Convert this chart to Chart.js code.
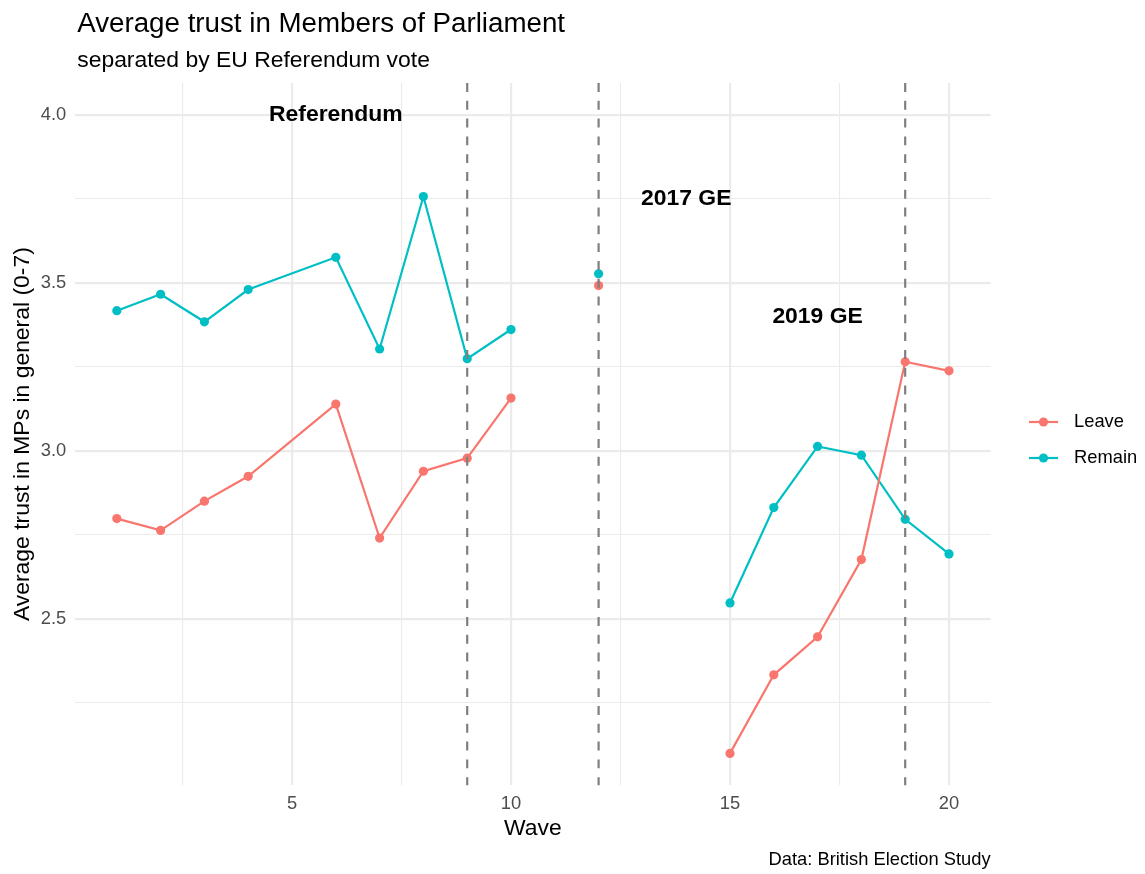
<!DOCTYPE html>
<html lang="en">
<head>
    <meta charset="UTF-8">
    <title>Average trust in Members of Parliament</title>
    <script src="https://cdn.jsdelivr.net/npm/chart.js"></script>
    <style>
        body {
            margin: 0;
            background: #ffffff;
        }
        canvas {
            display: block;
        }
    </style>
</head>
<body>
    <canvas id="trustChart" width="1145" height="874"></canvas>

    <script>
        // waves 11, 13 and 14 have no data -> null breaks the line
        const waves = [1, 2, 3, 4, 6, 7, 8, 9, 10, 11, 12, 13, 14, 15, 16, 17, 18, 19, 20];
        const leave = [2.798, 2.763, 2.850, 2.924, 3.139, 2.740, 2.939, 2.978, 3.157, null, 3.492, null, null, 2.099, 2.333, 2.446, 2.676, 3.265, 3.238];
        const remain = [3.417, 3.466, 3.384, 3.480, 3.576, 3.303, 3.757, 3.274, 3.361, null, 3.527, null, null, 2.547, 2.831, 3.013, 2.987, 2.796, 2.693];

        const eventWaves = [9, 12, 19];
        const eventLabels = ['Referendum', '2017 GE', '2019 GE'];
        const labelWaves = [6, 14, 17];
        const labelTrust = [4.0, 3.75, 3.4];

        const xTicks = [2.5, 5, 7.5, 10, 12.5, 15, 17.5, 20];
        const yTicks = [2.25, 2.5, 2.75, 3.0, 3.25, 3.5, 3.75, 4.0];

        const FONT = '"Liberation Sans", Arial, Helvetica, sans-serif';
        const BASE = 22.92;
        const SMALL = 18.33;
        Chart.defaults.font.family = FONT;

        const toPoints = vals => waves.map((w, i) => ({ x: w, y: vals[i] }));

        const isMajorX = v => Math.abs(v / 5 - Math.round(v / 5)) < 1e-9;
        const isMajorY = v => Math.abs(v * 2 - Math.round(v * 2)) < 1e-9;

        // vertical dashed lines + bold labels, drawn above the series
        const eventsPlugin = {
            id: 'events',
            afterDatasetsDraw(chart) {
                const { ctx, chartArea, scales } = chart;
                ctx.save();
                ctx.strokeStyle = '#7F7F7F';
                ctx.lineWidth = 2.2;
                ctx.setLineDash([8.9, 8.9]);
                eventWaves.forEach(w => {
                    const px = scales.x.getPixelForValue(w);
                    ctx.beginPath();
                    ctx.moveTo(px, chartArea.top);
                    ctx.lineTo(px, chartArea.bottom);
                    ctx.stroke();
                });
                ctx.setLineDash([]);
                ctx.fillStyle = '#000000';
                ctx.font = 'bold ' + BASE + 'px ' + FONT;
                ctx.textAlign = 'center';
                ctx.textBaseline = 'middle';
                eventLabels.forEach((txt, i) => {
                    ctx.fillText(txt, scales.x.getPixelForValue(labelWaves[i]), scales.y.getPixelForValue(labelTrust[i]));
                });
                ctx.restore();
            }
        };

        // title, subtitle, caption and legend in ggplot style
        const decorPlugin = {
            id: 'decor',
            afterDraw(chart) {
                const { ctx, chartArea } = chart;
                ctx.save();
                ctx.fillStyle = '#000000';
                ctx.textAlign = 'left';
                ctx.textBaseline = 'alphabetic';
                ctx.font = (BASE * 1.21) + 'px ' + FONT;
                ctx.fillText('Average trust in Members of Parliament', chartArea.left + 2, 32);
                ctx.font = BASE + 'px ' + FONT;
                ctx.fillText('separated by EU Referendum vote', chartArea.left + 2, 66.5);

                ctx.font = SMALL + 'px ' + FONT;
                ctx.textAlign = 'right';
                ctx.fillText('Data: British Election Study', chartArea.right, 865);

                // legend
                const legendY = [422, 458];
                chart.data.datasets.forEach((ds, i) => {
                    const y = legendY[i];
                    ctx.strokeStyle = ds.borderColor;
                    ctx.lineWidth = 2.2;
                    ctx.beginPath();
                    ctx.moveTo(1029, y);
                    ctx.lineTo(1058, y);
                    ctx.stroke();
                    ctx.fillStyle = ds.borderColor;
                    ctx.beginPath();
                    ctx.arc(1043.5, y, 4.6, 0, Math.PI * 2);
                    ctx.fill();
                    ctx.fillStyle = '#000000';
                    ctx.textAlign = 'left';
                    ctx.textBaseline = 'middle';
                    ctx.fillText(ds.label, 1074, y);
                });
                ctx.restore();
            }
        };

        const seriesStyle = color => ({
            borderColor: color,
            backgroundColor: color,
            pointBackgroundColor: color,
            pointBorderWidth: 0,
            pointRadius: 4.6,
            pointHoverRadius: 4.6,
            borderWidth: 2.2,
            tension: 0,
            spanGaps: false
        });

        const config = {
            type: 'line',
            data: {
                datasets: [
                    Object.assign({ label: 'Leave', data: toPoints(leave) }, seriesStyle('#F8766D')),
                    Object.assign({ label: 'Remain', data: toPoints(remain) }, seriesStyle('#00BFC4'))
                ]
            },
            options: {
                responsive: false,
                animation: false,
                events: [],
                layout: {
                    padding: { left: 0, top: 83, right: 154.4, bottom: 0 }
                },
                plugins: {
                    legend: { display: false },
                    tooltip: { enabled: false }
                },
                scales: {
                    x: {
                        type: 'linear',
                        min: 0.05,
                        max: 20.95,
                        afterBuildTicks: s => { s.ticks = xTicks.map(v => ({ value: v })); },
                        afterFit: s => { s.height = 88.7; },
                        border: { display: false },
                        grid: {
                            color: '#EBEBEB',
                            lineWidth: c => (c.tick && isMajorX(c.tick.value)) ? 2.2 : 1.1,
                            drawTicks: false
                        },
                        ticks: {
                            autoSkip: false,
                            maxRotation: 0,
                            padding: 8,
                            color: '#4D4D4D',
                            font: { size: SMALL },
                            callback: v => isMajorX(v) ? String(v) : ''
                        },
                        title: {
                            display: true,
                            text: 'Wave',
                            color: '#000000',
                            font: { size: BASE },
                            padding: { top: 0, bottom: 31.6 }
                        }
                    },
                    y: {
                        type: 'linear',
                        min: 2.004,
                        max: 4.095,
                        afterBuildTicks: s => { s.ticks = yTicks.map(v => ({ value: v })); },
                        afterFit: s => { s.width = 75.2; },
                        border: { display: false },
                        grid: {
                            color: '#EBEBEB',
                            lineWidth: c => (c.tick && isMajorY(c.tick.value)) ? 2.2 : 1.1,
                            drawTicks: false
                        },
                        ticks: {
                            autoSkip: false,
                            padding: 9,
                            color: '#4D4D4D',
                            font: { size: SMALL },
                            callback: v => isMajorY(v) ? v.toFixed(1) : ''
                        },
                        title: {
                            display: true,
                            text: 'Average trust in MPs in general (0-7)',
                            color: '#000000',
                            font: { size: BASE },
                            padding: { top: 8.75, bottom: 0 }
                        }
                    }
                }
            },
            plugins: [eventsPlugin, decorPlugin]
        };

        new Chart(document.getElementById('trustChart'), config);
    </script>
</body>
</html>
